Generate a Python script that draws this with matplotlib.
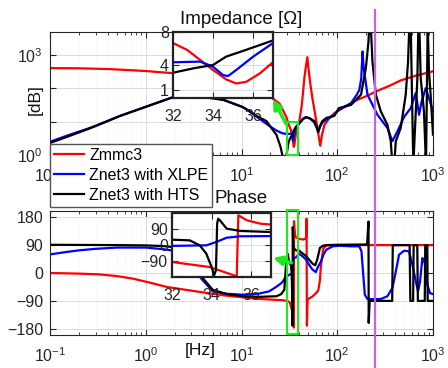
import matplotlib
matplotlib.use('Agg')
import matplotlib.pyplot as plt
from matplotlib.lines import Line2D
from matplotlib.patches import Rectangle, ConnectionPatch
from matplotlib.transforms import blended_transform_factory
from matplotlib.ticker import FixedLocator, FixedFormatter, LogLocator, NullFormatter

plt.rcParams['font.family'] = ['Liberation Sans', 'DejaVu Sans']
plt.rcParams['mathtext.fontset'] = 'custom'
plt.rcParams['mathtext.rm'] = 'Liberation Sans'

# ---- impedance magnitude ----
zmmc_f = [0.1, 0.2, 0.4, 0.7, 1.0, 1.5, 1.9, 3, 5, 8, 12, 16, 21, 25, 29.4, 31, 32, 32.7, 33.36, 34.0,
          34.66, 35.16, 35.66, 36.34, 37, 38.5, 40.2, 42.5, 44, 45.3, 47, 48.7, 50.5, 52.5, 55, 58.5,
          62, 64.5, 66.5, 69, 73.3, 82.6, 93, 120, 160, 205, 255, 350, 460, 650, 1000]
zmmc_z = [410, 405, 385, 355, 335, 305, 290, 240, 180, 125, 85, 65, 51, 35, 14, 8.5, 6.66, 5.84, 4.6, 3.4,
          2.25, 1.76, 1.96, 2.98, 4.33, 7, 10.5, 30, 80, 205, 450, 875, 320, 130, 51, 18,
          6.5, 3.2, 1.9, 3.8, 7.9, 12.9, 18, 28, 45, 60, 82, 120, 175, 240, 330]

xlpe_f = [0.1, 0.15, 0.26, 0.33, 0.54, 1.1, 1.9, 2.6, 3.3, 4.6, 6.5, 10.4, 12, 15, 19.5, 23, 26.7, 29.5,
          32, 33.36, 34.0, 34.5, 34.75, 35.16, 36.0, 37, 40.2, 44, 47.3, 52, 57.6, 61, 63.3, 66, 70,
          76.8, 93, 104, 139, 160, 170, 178, 184, 187, 191, 207, 263, 334, 377, 442, 499, 586, 661,
          715, 760, 840, 908, 1000]
xlpe_z = [2.5, 3.8, 6.5, 8.5, 15, 31, 54, 66, 66, 55, 46, 27, 21, 13, 7.5, 5.5, 4.5, 4.3,
          4.33, 4.41, 3.8, 2.78, 2.66, 3.39, 5.0, 6.66, 9.1, 12.5, 13.8, 12.5, 9.5, 6.5, 4.9, 7, 9.5,
          11.5, 16, 23, 36, 65, 91, 200, 1300, 600, 326, 65, 16.2, 6.5, 2.6, 6.5, 14, 25.8, 73,
          16.2, 40, 103, 51, 20.5]

hts_f = [0.1, 0.15, 0.26, 0.33, 0.54, 1.1, 1.9, 2.6, 3.3, 4.6, 6.5, 10.4, 12, 15, 18.2, 20.5, 23.2, 25.5,
         26.7, 28, 29.5, 31, 32, 33.03, 34, 34.66, 35.66, 37, 40.2, 44, 47.3, 52, 57.6, 61, 63.3, 66,
         70, 76.8, 93, 104, 139, 177, 199, 212, 216, 224, 233, 253, 285, 334, 362, 377, 393, 409, 460,
         519, 549, 566, 585, 623, 661, 687, 703, 720, 744, 805, 845, 880, 908, 945, 1000]
hts_z = [2.3, 3.5, 6.3, 8.3, 15, 31, 54, 66, 66, 52, 45, 27.5, 21, 14, 10.5, 6.5, 4, 1.8,
         1.0, 0.3, 1.0, 2.4, 3.06, 3.6, 4.0, 5.02, 5.84, 6.98, 9.1, 12, 13.8, 12.5, 10.5, 7, 4.9, 7.5,
         10.5, 13, 15, 25.8, 32, 65, 410, 2600, 8000, 8000, 650, 65, 20.5, 8.1, 2.6, 0.5, 0.5, 2.6, 6.5,
         65, 650, 8000, 8000, 0.5, 20, 205, 8000, 8000, 205, 20, 0.5, 8000, 326, 65, 4.1]

# ---- phase ----
zmmc_pf = [0.1, 0.2, 0.33, 0.5, 0.73, 1.1, 1.66, 3.65, 6.5, 14.3, 27.4, 31, 32, 33.9, 35.27, 35.35,
           35.78, 36.46, 37, 40, 44, 47.2, 47.8, 48.2, 49, 55, 60, 63.4, 65.9, 67, 68.5, 71.3, 77,
           100, 1000]
zmmc_p = [0, -2, -4.5, -10, -18, -31, -45, -61, -72, -83, -88, -92, -95.6, -124, -176, 167,
          139, 120, 115, 110, 108, 112, 175, -170, -85, -76, -65, -56, -24, 10, 40, 78, 89,
          90, 90]

xlpe_pf = [0.1, 0.15, 0.2, 0.3, 0.5, 1.0, 1.5, 1.86, 2.4, 3.0, 3.9, 5.0, 7, 10.2, 15, 19.5, 23, 26.5,
           29, 32, 33.73, 34.24, 34.76, 35.44, 37, 40, 43, 47.3, 52, 55.2, 59.6, 63, 67.6, 72, 76.8,
           89.6, 104, 139, 170, 179, 188, 194, 207, 285, 334, 377, 409, 442, 499, 562, 609, 661,
           698, 733, 774, 790, 820, 873, 931, 1000]
xlpe_p = [60, 68, 73, 78, 82, 82, 77, 73, 55, 20, -22, -59, -67, -70, -67, -59, -45, -31,
          -12, -5, -2, 17, 41, 49, 50, 62, 55, 43, 22, 11, 3, 20, 37, 60, 75,
          86, 88, 86, 86, 70, -16, -70, -84, -84, -75, -48, 5, 59, 72, 70, 27, -27,
          -59, -27, 48, 45, 32, -38, -65, -68]

hts_pf = [0.1, 0.5, 1.0, 1.5, 1.86, 2.4, 3.0, 3.9, 5.0, 7, 10.2, 15, 23.2, 26, 28, 28.8, 29.5, 30.4,
          31.2, 32, 32.9, 33.4, 33.73, 34.0, 34.13, 34.22, 34.28, 34.33, 34.42, 34.76, 35.44, 37, 40,
          47, 55.3, 59, 62, 65.9, 71, 77, 100, 205, 212, 213, 218, 375, 380, 570, 580, 620, 628, 685,
          695, 820, 830, 872, 880, 1000]
hts_p = [91, 90, 89, 87, 84, 65, 30, -15, -54, -68, -75, -77, -75, -68, -54, 0, 50, 62,
         40, 30, 26, -2, -48, -124, -170, -142, 120, 148, 139, 92, 79, 73, 72,
         55, 30, 25, 45, 81, 88, 90, 91, 92, 166, -161, -90, -90, 90, 90, -90, -90, 90, 90,
         -90, -90, 90, 90, -90, -90]

labels = ['Zmmc3', 'Znet3 with XLPE', 'Znet3 with HTS']
colors = ['#ff0000', '#0000ff', '#000000']
marker_freq = 250
zoom_band = (30, 39.3)

W, H = 448, 368
fig = plt.figure(figsize=(W / 100, H / 100), dpi=100)


def box(x0, y0, x1, y1):
    return [x0 / W, 1 - y1 / H, (x1 - x0) / W, (y1 - y0) / H]


edge = '#262626'


def matlab_style(ax, lw=0.8):
    ax.tick_params(which='both', direction='in', top=True, right=True, colors=edge,
                   labelsize=11.5, labelcolor=edge)
    ax.tick_params(which='major', length=4)
    ax.tick_params(which='minor', length=2)
    for s in ax.spines.values():
        s.set_color(edge)
        s.set_linewidth(lw)


ax1 = fig.add_axes(box(50, 32, 433, 155))
ax2 = fig.add_axes(box(50, 211, 433, 335))

for f, z, c in zip([zmmc_f, xlpe_f, hts_f], [zmmc_z, xlpe_z, hts_z], colors):
    ax1.plot(f, z, color=c, lw=1.6)
ax1.set_xscale('log')
ax1.set_yscale('log')
ax1.set_xlim(0.1, 1000)
ax1.set_ylim(1, 5000)
ax1.yaxis.set_major_locator(FixedLocator([1, 10, 100, 1000]))
ax1.yaxis.set_major_formatter(FixedFormatter([r'$\mathdefault{10^{0}}$', '', '', r'$\mathdefault{10^{3}}$']))
ax1.yaxis.set_minor_formatter(NullFormatter())

for f, p, c in zip([zmmc_pf, xlpe_pf, hts_pf], [zmmc_p, xlpe_p, hts_p], colors):
    ax2.plot(f, p, color=c, lw=1.6)
ax2.set_xscale('log')
ax2.set_xlim(0.1, 1000)
ax2.set_ylim(-200, 200)
ax2.set_yticks([-180, -90, 0, 90, 180])

for ax in (ax1, ax2):
    matlab_style(ax)
    ax.xaxis.set_major_locator(LogLocator(base=10, numticks=10))
    ax.xaxis.set_minor_locator(LogLocator(base=10, subs=range(2, 10), numticks=10))
    ax.xaxis.set_minor_formatter(NullFormatter())
    ax.grid(True, which='major', color='#dcdcdc', lw=0.7)
    ax.grid(True, which='minor', color='#ececec', lw=0.5, ls=':')
    ax.set_axisbelow(True)
    ax.tick_params(axis='x', pad=8)
    ax.tick_params(axis='y', pad=5)

# the 10^0 label of the upper panel sits fully under the legend
ax1.xaxis.set_major_locator(FixedLocator([0.1, 1, 10, 100, 1000]))
ax1.xaxis.set_major_formatter(FixedFormatter([r'$\mathdefault{10^{-1}}$', '', r'$\mathdefault{10^{1}}$',
                                              r'$\mathdefault{10^{2}}$', r'$\mathdefault{10^{3}}$']))

ax1.set_title('Impedance [Ω]', fontsize=13.5, pad=6, color='#111111')
ax2.set_title('Phase', fontsize=13.5, pad=6, color='#111111')
fig.text(35.5 / W, 1 - 100 / H, '[dB]', rotation=90, ha='center', va='center', fontsize=12.5, color='#111111')
fig.text(200 / W, 1 - 350 / H, '[Hz]', ha='center', va='center', fontsize=12.5, color='#111111')

# zoomed insets
in1 = fig.add_axes(box(173, 32, 273, 98))
for f, z, c in zip([zmmc_f, xlpe_f, hts_f], [zmmc_z, xlpe_z, hts_z], colors):
    in1.plot(f, z, color=c, lw=1.6)
in1.set_xlim(32, 37)
in1.set_ylim(0, 8)
in1.set_xticks([32, 34, 36])
in1.set_yticks([1, 4, 8])

in2 = fig.add_axes(box(172, 213, 271, 277))
for f, p, c in zip([zmmc_pf, xlpe_pf, hts_pf], [zmmc_p, xlpe_p, hts_p], colors):
    in2.plot(f, p, color=c, lw=1.6)
in2.set_xlim(32, 37)
in2.set_ylim(-180, 180)
in2.set_xticks([32, 34, 36])
in2.set_yticks([-90, 0, 90])

for ax in (in1, in2):
    matlab_style(ax, lw=1.6)
    for s in ax.spines.values():
        s.set_color('#222222')
    ax.grid(True, color='#dcdcdc', lw=0.7)
    ax.set_axisbelow(True)
    ax.tick_params(axis='x', pad=8)
    ax.tick_params(axis='y', pad=3)

# highlighted band and arrows
green = '#1ee81e'
ax1.add_patch(Rectangle((zoom_band[0], 0.97), zoom_band[1] - zoom_band[0], 9.8 - 0.97,
                        fill=False, ec=green, lw=1.5, clip_on=False, zorder=5))
ax2.add_patch(Rectangle((zoom_band[0], -196), zoom_band[1] - zoom_band[0], 400,
                        fill=False, ec=green, lw=1.5, clip_on=False, zorder=5))
for xyA, axA, xyB, axB in [((29.4, 8.5), ax1, (1.0, -0.02), in1),
                           ((33.2, 33), ax2, (1.02, 0.3), in2)]:
    arr = ConnectionPatch(xyA, xyB, coordsA=axA.transData, coordsB=axB.transAxes,
                          arrowstyle='-|>', mutation_scale=13, lw=2.6, color=green)
    fig.add_artist(arr)

# marker frequency line across both panels
tr = blended_transform_factory(ax2.transData, fig.transFigure)
fig.add_artist(Line2D([marker_freq, marker_freq], [1 - 10 / H, 0.0], transform=tr,
                      color='#bb66ee', lw=1.6))

handles = [Line2D([], [], color=c, lw=1.6) for c in colors]
fig.legend(handles, labels, loc='upper left', bbox_to_anchor=(50 / W, 1 - 144 / H),
           bbox_transform=fig.transFigure, borderaxespad=0, fontsize=11.5, frameon=True,
           fancybox=False, framealpha=1, edgecolor='#555555', borderpad=0.25,
           labelspacing=0.3, handlelength=1.9, handletextpad=0.3)

fig.savefig('out.png', dpi=100)
